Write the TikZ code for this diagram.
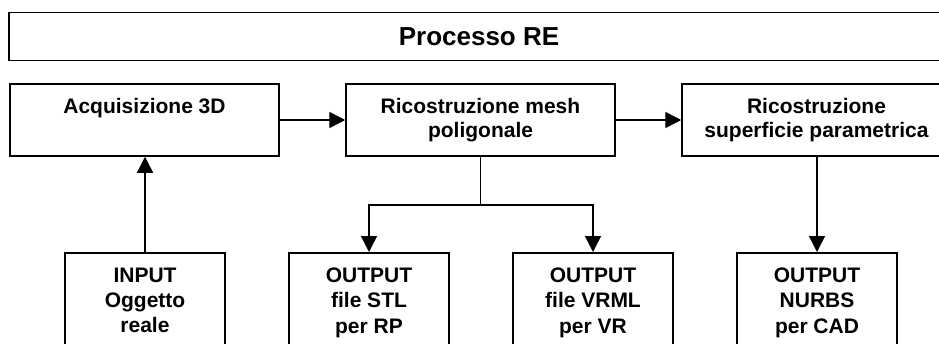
\documentclass[tikz,border=0pt]{standalone}
\usepackage{fontspec}
\setmainfont{Liberation Sans}
\usetikzlibrary{arrows.meta}
\begin{document}
\begin{tikzpicture}[x=1pt,y=-1pt,line width=1.5pt,
  stepbox/.style={draw, rectangle, inner sep=0pt, minimum width=269pt, minimum height=72pt,
    align=center, font=\bfseries\fontsize{21pt}{23.5pt}\selectfont},
  outbox/.style={draw, rectangle, anchor=north, minimum width=160pt, inner xsep=0pt, inner ysep=15pt,
    align=center, font=\bfseries\fontsize{21pt}{25.3pt}\selectfont},
  arr/.style={-{Triangle[length=16pt,width=16pt]}}]
\useasboundingbox (0,0) rectangle (939,343);
\clip (0,0) rectangle (939,343);

% title bar
\node[draw, rectangle, inner sep=0pt, minimum width=940pt, minimum height=48pt,
  font=\bfseries\fontsize{26pt}{30pt}\selectfont] (title) at (479,36.5) {Processo RE};

% main process steps
\node[stepbox] (acq)  at (144.5,120) {Acquisizione 3D\\\vphantom{p}};
\node[stepbox] (mesh) at (480.5,120) {Ricostruzione mesh\\poligonale};
\node[stepbox] (surf) at (816.5,120) {Ricostruzione\\superficie parametrica};

% input and outputs
\node[outbox] (inp)  at (145,252) {INPUT\\Oggetto\\reale};
\node[outbox] (stl)  at (369,252) {OUTPUT\\file STL\\per RP};
\node[outbox] (vrml) at (593,252) {OUTPUT\\file VRML\\per VR};
\node[outbox] (nurbs) at (817,252) {OUTPUT\\NURBS\\per CAD};

% connectors
\draw[arr] (acq) -- (mesh);
\draw[arr] (mesh) -- (surf);
\draw[arr] (inp.north) -- (inp.north |- acq.south);
\draw (mesh.south) -- ++(0,48) coordinate (split);
\draw[arr] (split) -| (stl.north);
\draw[arr] (split) -| (vrml.north);
\draw[arr] (nurbs.north |- surf.south) -- (nurbs.north);
\end{tikzpicture}
\end{document}
